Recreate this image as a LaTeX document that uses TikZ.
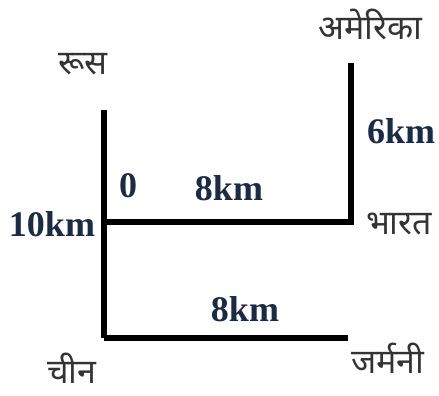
\documentclass[tikz,border=0pt]{standalone}
\usepackage{fontspec}
\setmainfont{Liberation Serif}
\newfontfamily\deva[Script=Devanagari]{Noto Sans}
\definecolor{lbl}{HTML}{1B2A45}
\definecolor{txt}{HTML}{333333}
\begin{document}
\begin{tikzpicture}[x=1pt,y=-1pt,
  road/.style={line width=5.5pt,black},
  km/.style={font=\fontsize{36}{38}\selectfont\bfseries,text=lbl,inner sep=0pt},
  place/.style={font=\deva\fontsize{34}{36}\selectfont,text=txt,inner sep=0pt}]
\useasboundingbox (0,0) rectangle (439,396);
\coordinate (rtop) at (104,110);
\coordinate (o) at (104,222);
\coordinate (china) at (104,338);
\coordinate (bharat) at (351,222);
\coordinate (atop) at (351,63);
\coordinate (germ) at (348,338);
\draw[road] (rtop) -- (china);
\draw[road,line join=miter] (o) -- (bharat) -- (atop);
\draw[road,line join=miter] (china) -- (germ);
\node[place] (rus) at (83,64) {रूस};
\node[place] (us) at (370,24) {अमेरिका};
\node[place] (ind) at (399,224) {भारत};
\node[place] (ger) at (388,358) {जर्मनी};
\node[place] (chn) at (72,368) {चीन};
\node[km] (k6) at (401,131) {6km};
\node[km] (zero) at (128,186) {0};
\node[km] (k8a) at (229,188) {8km};
\node[km] (k10) at (52,224) {10km};
\node[km] (k8b) at (245,309) {8km};
\end{tikzpicture}
\end{document}
